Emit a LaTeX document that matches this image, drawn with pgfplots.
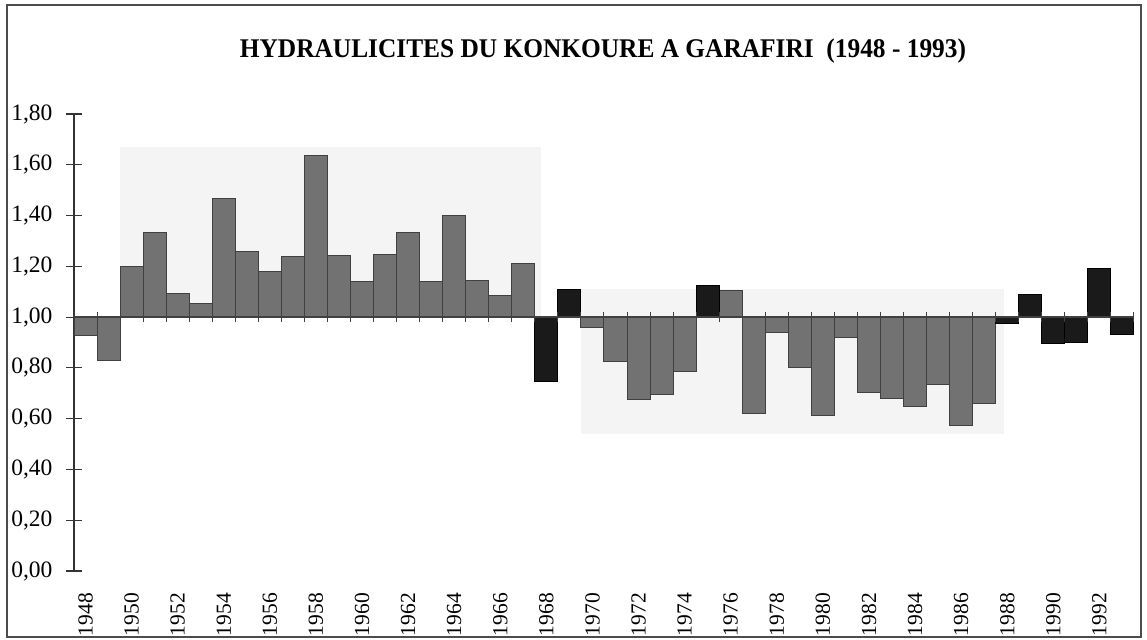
\documentclass[border=0pt]{standalone}
\usepackage{pgfplots}
\pgfplotsset{compat=1.18}
\usepackage{pgfplotstable}
\usepackage{fontspec}
\setmainfont{Liberation Serif}
\definecolor{bargrey}{HTML}{727272}
\definecolor{barblack}{HTML}{1A1A1A}
\definecolor{bgpatch}{HTML}{F4F4F4}

% year index (0 = 1948), hydraulicity
\pgfplotstableread{
i v
0 0.926
1 0.830
2 1.200
3 1.334
4 1.092
5 1.055
6 1.467
7 1.257
8 1.178
9 1.237
10 1.638
11 1.244
12 1.141
13 1.246
14 1.334
15 1.140
16 1.400
17 1.146
18 1.084
19 1.210
22 0.959
23 0.825
24 0.676
25 0.696
26 0.785
28 1.103
29 0.620
30 0.939
31 0.802
32 0.614
33 0.921
34 0.704
35 0.678
36 0.647
37 0.735
38 0.572
39 0.660
}\greydata

\pgfplotstableread{
i v
20 0.748
21 1.108
27 1.125
40 0.976
41 1.088
42 0.897
43 0.900
44 1.190
45 0.930
}\blackdata

\begin{document}
\begin{tikzpicture}
\useasboundingbox (0,0) rectangle (573.5pt,319.5pt);
\draw[line width=0.6pt, black!70] (3.5pt,1pt) rectangle (570.5pt,317pt);
\node[font=\bfseries\fontsize{13.5}{16}\selectfont, xscale=0.94] at (301.5pt,294pt) {HYDRAULICITES DU KONKOURE A GARAFIRI\ \ (1948 - 1993)};
\begin{axis}[
  at={(37pt,34pt)}, anchor=south west,
  scale only axis, width=530pt, height=228.5pt,
  xmin=-0.5, xmax=45.5, ymin=-1, ymax=0.8,
  axis x line*=bottom, axis y line*=left,
  x axis line style={draw=none},
  y axis line style={black!80, line width=0.6pt},
  xtick={0,2,...,44},
  xticklabels={1948,1950,1952,1954,1956,1958,1960,1962,1964,1966,1968,1970,1972,1974,1976,1978,1980,1982,1984,1986,1988,1990,1992},
  major x tick style={draw=none},
  xticklabel style={rotate=90, anchor=east, font=\fontsize{10.75}{12}\selectfont},
  ytick={-1,-0.8,-0.6,-0.4,-0.2,0,0.2,0.4,0.6,0.8},
  yticklabels={{0,00},{0,20},{0,40},{0,60},{0,80},{1,00},{1,20},{1,40},{1,60},{1,80}},
  yticklabel style={font=\fontsize{11.75}{13}\selectfont, xshift=-3.5pt},
  major y tick style={black!80, line width=0.6pt},
  tick align=center, major tick length=7.5pt,
  ybar, bar width=1,
  clip=false,
]
\fill[bgpatch] (axis cs:1.5,0) rectangle (axis cs:19.76,0.67);
\fill[bgpatch] (axis cs:21.5,0.11) rectangle (axis cs:39.85,-0.46);
\addplot[bar shift=0pt, fill=bargrey, draw=black!75, line width=0.5pt]
  table[x=i, y expr=\thisrow{v}-1] {\greydata};
\addplot[bar shift=0pt, fill=barblack, draw=black, line width=0.5pt]
  table[x=i, y expr=\thisrow{v}-1] {\blackdata};
\draw[black!75, line width=0.8pt] (axis cs:-0.5,0) -- (axis cs:45.5,0);
\pgfplotsinvokeforeach{-0.5,0.5,...,45.5}{
  \draw[black!75, line width=0.5pt] ([yshift=2.5pt]axis cs:#1,0) -- ([yshift=-2.5pt]axis cs:#1,0);
}
\end{axis}
\end{tikzpicture}
\end{document}
